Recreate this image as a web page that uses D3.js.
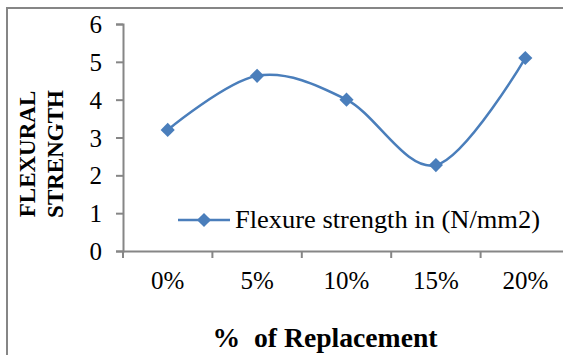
<!DOCTYPE html>
<html><head><meta charset="utf-8">
<script src="https://cdn.jsdelivr.net/npm/d3@7"></script>
<style>html,body{margin:0;padding:0;background:#fff;overflow:hidden}</style>
</head><body>
<script>
const categories = ["0%", "5%", "10%", "15%", "20%"];
const flexureStrength = [3.2, 4.63, 4.0, 2.27, 5.1];
const yTicks = [0, 1, 2, 3, 4, 5, 6];
const seriesName = "Flexure strength in (N/mm2)";
const xTitle = "%  of Replacement";
const yTitleLines = ["FLEXURAL", "STRENGTH"];

(function () {
const W = 563, H = 355;
const color = "#4a7ebb", axisColor = "#868686";
const font = "'Liberation Serif','Times New Roman',serif";

const svg = d3.select("body").append("svg").attr("width", W).attr("height", H);

svg.append("rect").attr("x", 7).attr("y", 8).attr("width", 600).attr("height", 400)
  .attr("fill", "#fff").attr("stroke", axisColor).attr("stroke-width", 2);

const pLeft = 123, pRight = 570, pTop = 24, pBottom = 251;
const x = d3.scaleBand().domain(categories).range([pLeft, pRight]);
const y = d3.scaleLinear().domain([0, 6]).range([pBottom, pTop]);

const yAxis = svg.append("g").attr("transform", `translate(${pLeft},0)`)
  .call(d3.axisLeft(y).tickValues(yTicks).tickSize(7).tickPadding(14).tickFormat(d3.format("d")));
yAxis.attr("font-family", null).attr("font-size", null);
yAxis.select(".domain").attr("stroke", axisColor).attr("stroke-width", 2);
yAxis.selectAll(".tick line").attr("stroke", axisColor).attr("stroke-width", 2);
yAxis.selectAll(".tick text").style("font-family", font).style("font-size", "25px").attr("fill", "#000")
  .attr("dy", "0.34em");

const xAxis = svg.append("g").attr("transform", `translate(0,${pBottom})`)
  .call(d3.axisBottom(x).tickSize(0).tickPadding(0));
xAxis.attr("font-family", null).attr("font-size", null);
xAxis.select(".domain").attr("stroke", axisColor).attr("stroke-width", 2);
xAxis.selectAll(".tick line").remove();
xAxis.selectAll(".tick text").style("font-family", font).style("font-size", "25px").attr("fill", "#000")
  .attr("dy", null).attr("y", 38);
const bounds = categories.map(c => x(c)).concat([x(categories[categories.length - 1]) + x.bandwidth()]);
xAxis.selectAll(".bnd").data(bounds).join("line").attr("class", "bnd")
  .attr("x1", d => d).attr("x2", d => d).attr("y1", 0).attr("y2", 7)
  .attr("stroke", axisColor).attr("stroke-width", 2);

const cx = c => x(c) + x.bandwidth() / 2;
const line = d3.line().x((d, i) => cx(categories[i])).y(d => y(d)).curve(d3.curveCardinal.tension(0));
svg.append("path").datum(flexureStrength).attr("d", line).attr("fill", "none")
  .attr("stroke", color).attr("stroke-width", 2.5);

const diamond = d3.symbol().type(d3.symbolSquare).size(100);
svg.selectAll(".pt").data(flexureStrength).join("path").attr("class", "pt")
  .attr("d", diamond)
  .attr("transform", (d, i) => `translate(${cx(categories[i])},${y(d)}) rotate(45)`)
  .attr("fill", color);

const lg = svg.append("g");
lg.append("line").attr("x1", 178).attr("x2", 230).attr("y1", 220).attr("y2", 220)
  .attr("stroke", color).attr("stroke-width", 2.5);
lg.append("path").attr("d", diamond).attr("transform", "translate(204,220) rotate(45)").attr("fill", color);
lg.append("text").attr("x", 235).attr("y", 228).style("font-family", font).style("font-size", "25px")
  .attr("fill", "#000").attr("textLength", 305).attr("lengthAdjust", "spacingAndGlyphs").text(seriesName);

svg.append("text").attr("x", 325).attr("y", 347).attr("text-anchor", "middle")
  .style("font-family", font).style("font-size", "27px").attr("font-weight", "bold").attr("fill", "#000")
  .attr("textLength", 225).attr("lengthAdjust", "spacingAndGlyphs")
  .style("white-space", "pre").text(xTitle);

yTitleLines.forEach((t, i) => {
  svg.append("text").attr("transform", `translate(${35 + i * 28},154) rotate(-90)`)
    .attr("text-anchor", "middle").style("font-family", font).style("font-size", "23px")
    .attr("font-weight", "bold").attr("fill", "#000").text(t);
});
})();
</script>
</body></html>
